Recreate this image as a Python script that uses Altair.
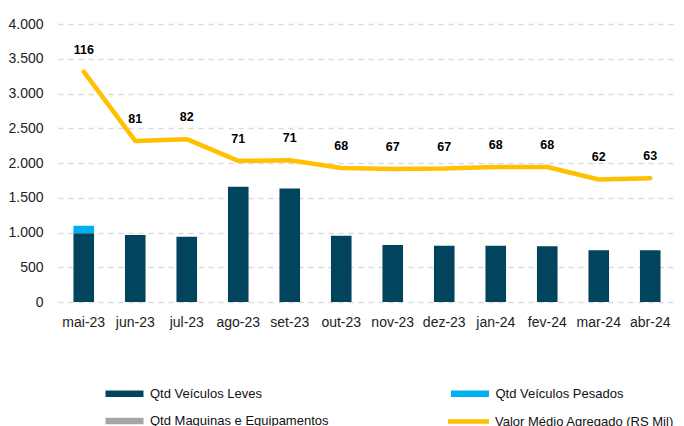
import altair as alt
import pandas as pd

meses = ["mai-23", "jun-23", "jul-23", "ago-23", "set-23", "out-23",
         "nov-23", "dez-23", "jan-24", "fev-24", "mar-24", "abr-24"]
leves = [990, 963, 939, 1657, 1634, 954, 821, 811, 811, 802, 745, 745]
pesados = [107, 0, 0, 0, 0, 0, 0, 0, 0, 0, 0, 0]
maquinas = [0, 0, 0, 0, 0, 0, 0, 0, 0, 0, 0, 0]
valor_linha = [3314, 2318, 2343, 2031, 2039, 1929, 1915, 1920, 1943, 1943, 1763, 1781]
valor_medio = [116, 81, 82, 71, 71, 68, 67, 67, 68, 68, 62, 63]
y_ticks = [0, 500, 1000, 1500, 2000, 2500, 3000, 3500, 4000]

series_barras = ["Qtd Veículos Leves", "Qtd Veículos Pesados", "Qtd Maquinas e Equipamentos"]
cores_barras = ["#02445E", "#00B0F0", "#A6A6A6"]
serie_linha = "Valor Médio Agregado (RS Mil)"
cor_linha = "#FFC000"

rows = []
for i, m in enumerate(meses):
    for k, (s, vals) in enumerate(zip(series_barras, [leves, pesados, maquinas])):
        rows.append({"mes": m, "serie": s, "valor": vals[i], "ordem": k})
bars_df = pd.DataFrame(rows)
line_df = pd.DataFrame({"mes": meses, "serie": serie_linha, "valor": valor_linha,
                        "rotulo": [str(v) for v in valor_medio]})

FONT = "Liberation Sans"

common_legend = dict(
    orient="none", title=None, symbolSize=100, symbolOpacity=1,
    labelFont=FONT, labelFontSize=13, labelColor="#111", labelOffset=19,
    padding=0, labelLimit=400,
)
bar_legend = alt.Legend(legendX=60, legendY=363, columns=2, direction="horizontal",
                        columnPadding=121.5, rowPadding=13.5,
                        symbolType="M-3.8,-0.65H3.8V0.65H-3.8Z", symbolStrokeWidth=0,
                        **common_legend)
line_legend = alt.Legend(legendX=403, legendY=390, symbolType="M-4.1,0H4.1",
                         symbolStrokeWidth=4.5, symbolStrokeColor=cor_linha,
                         **common_legend)

x = alt.X("mes:N", sort=meses, title=None,
          scale=alt.Scale(paddingInner=0.6, paddingOuter=0.3),
          axis=alt.Axis(labelAngle=0, domain=False, ticks=False, grid=False,
                        labelFont=FONT, labelFontSize=14, labelColor="#222", labelPadding=13))
yscale = alt.Scale(domain=[0, 4000], nice=False)
yaxis = alt.Axis(values=y_ticks, labelOverlap=False,
                 domain=False, ticks=False,
                 labelFont=FONT, labelFontSize=14, labelColor="#222", labelPadding=15,
                 labelExpr="replace(format(datum.value, ',d'), ',', '.')",
                 gridColor="#D9D9D9", gridDash=[5, 5], gridWidth=1.3)
y = alt.Y("valor:Q", scale=yscale, axis=yaxis, title=None)

bars = alt.Chart(bars_df).mark_bar().encode(
    x=x,
    y=alt.Y("valor:Q", stack="zero", scale=yscale, axis=yaxis, title=None),
    color=alt.Color("serie:N", scale=alt.Scale(domain=series_barras, range=cores_barras),
                    legend=bar_legend),
    order=alt.Order("ordem:Q"),
)

line = alt.Chart(line_df).mark_line(strokeWidth=4.5, strokeCap="round", strokeJoin="round").encode(
    x=x,
    y=y,
    stroke=alt.Stroke("serie:N", scale=alt.Scale(domain=[serie_linha], range=[cor_linha]),
                      legend=line_legend),
)

labels = alt.Chart(line_df).mark_text(font=FONT, fontSize=12.5, fontWeight="bold",
                                      color="#000", dy=-22).encode(
    x=x,
    y=y,
    text="rotulo:N",
)

chart = alt.layer(bars, line, labels).resolve_scale(color="independent", stroke="independent").properties(
    width=618, height=278,
    autosize=alt.AutoSizeParams(type="none"),
    padding={"left": 50, "top": 16, "right": 0, "bottom": 126},
).configure_view(stroke=None)

chart.save("out.html", embed_options={"renderer": "svg", "actions": False})
